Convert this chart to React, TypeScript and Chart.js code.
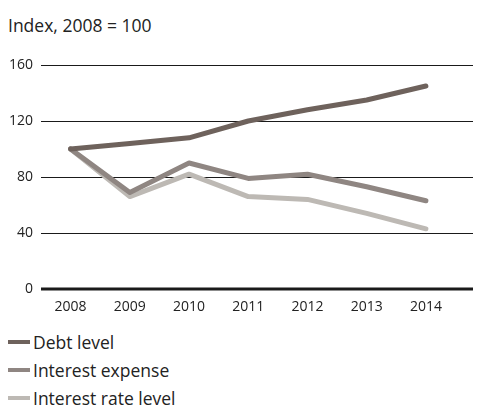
import React, { useEffect, useRef } from "react";
import { Chart, registerables } from "chart.js";

Chart.register(...registerables);

const years = ["2008", "2009", "2010", "2011", "2012", "2013", "2014"];
const debtLevel = [100, 104, 108, 120, 128, 135, 145];
const interestExpense = [100, 69, 90, 79, 82, 73, 63];
const interestRateLevel = [100, 66, 82, 66, 64, 54, 43];
const yTicks = [0, 40, 80, 120, 160];

const seriesNames = ["Debt level", "Interest expense", "Interest rate level"];
const seriesColors = ["#6e625c", "#8f8682", "#bdb9b4"];

const FONT = "'Open Sans', sans-serif";
const TEXT = "#222222";

const gridPlugin = {
  id: "extendedGrid",
  beforeDatasetsDraw(chart: any) {
    const { ctx, chartArea, scales } = chart;
    const y = scales.y;
    ctx.save();
    yTicks.forEach((v) => {
      const py = Math.round(y.getPixelForValue(v));
      ctx.beginPath();
      ctx.strokeStyle = "#1a1a1a";
      if (v === 0) {
        ctx.lineWidth = 3;
        ctx.moveTo(chartArea.left, py);
        ctx.lineTo(chart.width, py);
      } else {
        ctx.lineWidth = 1;
        ctx.moveTo(chartArea.left, py + 0.5);
        ctx.lineTo(chart.width, py + 0.5);
      }
      ctx.stroke();
    });
    ctx.restore();
  },
};

export default function App() {
  const ref = useRef<HTMLCanvasElement>(null);

  useEffect(() => {
    if (!ref.current) return;
    const data = [debtLevel, interestExpense, interestRateLevel];
    const chart = new Chart(ref.current, {
      type: "line",
      data: {
        labels: years,
        datasets: data.map((d, i) => ({
          label: seriesNames[i],
          data: d,
          borderColor: seriesColors[i],
          backgroundColor: seriesColors[i],
          borderWidth: 5,
          pointRadius: 0,
          tension: 0,
          borderCapStyle: "round",
          borderJoinStyle: "round",
          order: i,
        })),
      },
      options: {
        responsive: false,
        animation: false,
        layout: { padding: { top: 25, right: 25.5, left: 0, bottom: 0 } },
        plugins: {
          legend: { display: false },
          tooltip: { enabled: false },
        },
        scales: {
          x: {
            offset: true,
            grid: { display: false, drawTicks: false },
            border: { display: false },
            afterFit: (axis: any) => {
              axis.height = 31;
            },
            ticks: {
              color: TEXT,
              font: { family: FONT, size: 14 },
              padding: 10,
              maxRotation: 0,
            },
          },
          y: {
            min: 0,
            max: 160,
            afterBuildTicks: (axis: any) => {
              axis.ticks = yTicks.map((v) => ({ value: v }));
            },
            afterFit: (axis: any) => {
              axis.width = 33;
            },
            grid: { display: false, drawTicks: false },
            border: { display: false },
            ticks: {
              color: TEXT,
              font: { family: FONT, size: 14 },
              padding: 8,
            },
          },
        },
      },
      plugins: [gridPlugin],
    });
    return () => chart.destroy();
  }, []);

  return (
    <div style={{ fontFamily: FONT, color: TEXT }}>
      <div style={{ fontSize: 17.5, lineHeight: "34px", height: 32 }}>
        Index, 2008 = 100
      </div>
      <canvas ref={ref} width={473} height={280} style={{ display: "block" }} />
      <div style={{ marginTop: 8 }}>
        {seriesNames.map((n, i) => (
          <div
            key={n}
            style={{
              display: "flex",
              alignItems: "center",
              height: 28,
              fontSize: 17.5,
            }}
          >
            <span
              style={{
                display: "inline-block",
                width: 22,
                height: 4,
                background: seriesColors[i],
                marginRight: 3,
              }}
            />
            <span>{n}</span>
          </div>
        ))}
      </div>
    </div>
  );
}
